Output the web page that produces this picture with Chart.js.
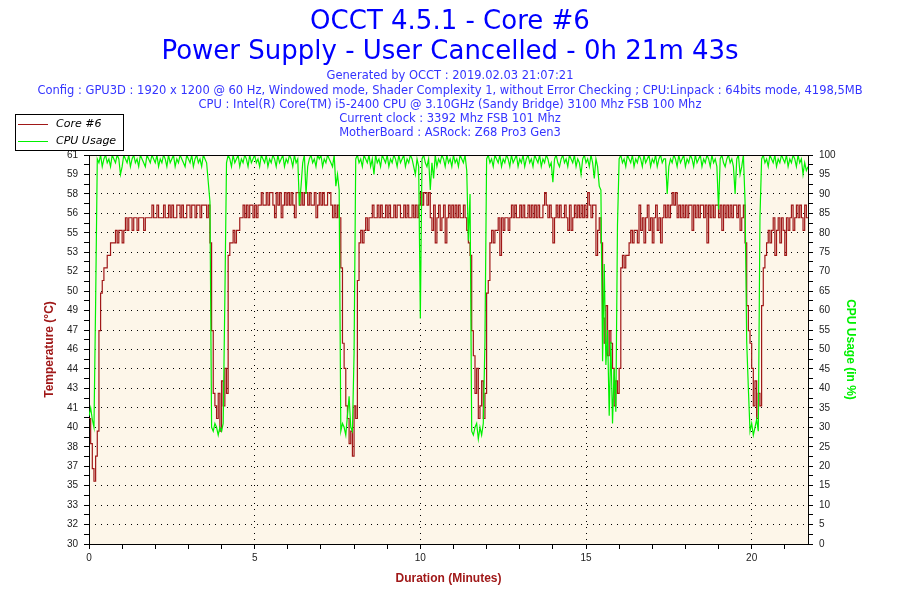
<!DOCTYPE html>
<html>
<head>
<meta charset="utf-8">
<script src="https://cdn.jsdelivr.net/npm/chart.js@4.4.1/dist/chart.umd.min.js"></script>
<style>
  body { margin: 0; background: #fff; }
  #wrap { position: relative; width: 900px; height: 600px; overflow: hidden; font-family: "DejaVu Sans", sans-serif; }
  #chart { position: absolute; left: 0; top: 0; }
  .line { position: absolute; left: 0; width: 900px; text-align: center; white-space: nowrap; }
  .big { font-size: 26px; line-height: 30px; color: #0000ff; }
  .small { font-size: 11.5px; line-height: 14px; color: #3434ff; }
  #legend { position: absolute; left: 15px; top: 114px; width: 107px; height: 35px; border: 1px solid #000; background: #fff; font-size: 11px; font-style: italic; color: #000; }
  #legend .row { position: absolute; left: 2px; height: 14px; line-height: 14px; }
  #legend .swatch { position: absolute; left: 0; top: 7px; width: 30px; height: 1px; }
  #legend .lbl { position: absolute; left: 38px; top: 0; white-space: nowrap; }
</style>
</head>
<body>
<div id="wrap">
  <canvas id="chart" width="900" height="600"></canvas>
  <div class="line big" style="top:5px">OCCT 4.5.1 - Core #6</div>
  <div class="line big" style="top:35px">Power Supply - User Cancelled - 0h 21m 43s</div>
  <div class="line small" style="top:68px">Generated by OCCT : 2019.02.03 21:07:21</div>
  <div class="line small" style="top:83px">Config : GPU3D : 1920 x 1200 @ 60 Hz, Windowed mode, Shader Complexity 1, without Error Checking ; CPU:Linpack : 64bits mode, 4198,5MB</div>
  <div class="line small" style="top:97px">CPU : Intel(R) Core(TM) i5-2400 CPU @ 3.10GHz (Sandy Bridge) 3100 Mhz FSB 100 Mhz</div>
  <div class="line small" style="top:111px">Current clock : 3392 Mhz FSB 101 Mhz</div>
  <div class="line small" style="top:125px">MotherBoard : ASRock: Z68 Pro3 Gen3</div>
  <div id="legend">
    <div class="row" style="top:2px"><span class="swatch" style="background:#a01818"></span><span class="lbl">Core #6</span></div>
    <div class="row" style="top:19px"><span class="swatch" style="background:#00f000"></span><span class="lbl">CPU Usage</span></div>
  </div>
</div>
<script>
// one sample every 0.05 min (3 s), one row per minute
const SAMPLE_STEP_MIN = 0.05;
const DURATION_MIN = 21.7;

const cpuUsage = [
  33, 35, 32, 30, 62, 99, 98, 100, 97, 99, 100, 98, 99, 97, 100, 99, 98, 100, 99, 95,
  97, 100, 99, 98, 100, 97, 99, 100, 98, 99, 97, 100, 99, 98, 97, 100, 99, 98, 100, 99,
  98, 100, 97, 99, 98, 100, 99, 97, 100, 98, 99, 100, 97, 99, 98, 100, 99, 98, 97, 100,
  99, 98, 100, 97, 99, 100, 98, 99, 97, 100, 99, 98, 93, 88, 30, 29, 31, 30, 28, 30,
  29, 31, 63, 98, 100, 99, 97, 100, 98, 99, 100, 97, 99, 98, 100, 99, 97, 100, 98, 99,
  100, 98, 99, 97, 100, 99, 98, 100, 97, 99, 98, 100, 99, 97, 100, 98, 99, 100, 97, 99,
  98, 100, 99, 97, 100, 98, 99, 87, 92, 98, 100, 90, 97, 99, 100, 98, 99, 97, 100, 99,
  100, 97, 99, 98, 100, 99, 98, 97, 100, 92, 95, 91, 29, 31, 30, 28, 33, 38, 30, 29,
  49, 99, 100, 98, 99, 97, 100, 99, 98, 100, 97, 99, 95, 100, 98, 99, 97, 100, 99, 98,
  100, 97, 99, 98, 100, 99, 97, 100, 98, 99, 100, 97, 99, 98, 100, 99, 97, 95, 99, 97,
  58, 99, 100, 98, 97, 99, 91, 98, 94, 100, 97, 99, 98, 100, 99, 97, 100, 98, 99, 97,
  100, 98, 99, 97, 100, 99, 98, 100, 96, 78, 90, 29, 28, 30, 31, 27, 30, 28, 31, 52,
  99, 100, 98, 99, 97, 100, 99, 98, 100, 97, 99, 98, 100, 99, 97, 100, 98, 99, 100, 97,
  99, 98, 100, 97, 99, 100, 98, 99, 97, 100, 99, 98, 100, 97, 99, 98, 100, 99, 97, 98,
  93, 99, 100, 98, 97, 99, 100, 98, 99, 97, 100, 99, 98, 100, 97, 99, 98, 95, 99, 100,
  98, 99, 97, 100, 98, 94, 99, 97, 92, 91, 47, 72, 46, 55, 33, 52, 31, 45, 34, 82,
  99, 100, 98, 99, 97, 100, 99, 98, 100, 97, 99, 98, 100, 99, 97, 100, 98, 99, 100, 97,
  99, 98, 100, 97, 99, 100, 98, 99, 99, 90, 97, 99, 98, 100, 99, 97, 100, 98, 99, 100,
  97, 99, 98, 100, 99, 97, 100, 98, 99, 100, 97, 99, 98, 100, 99, 97, 100, 98, 99, 97,
  86, 99, 100, 98, 97, 99, 100, 98, 99, 97, 90, 99, 100, 95, 97, 100, 88, 52, 40, 29,
  31, 28, 30, 32, 29, 84, 99, 100, 98, 99, 97, 100, 99, 98, 100, 97, 99, 98, 100, 99,
  98, 100, 97, 99, 98, 100, 99, 97, 100, 98, 99, 95, 98, 96, 97
];

const coreTemp = [
  40, 38, 36, 35, 37, 39, 47, 50, 51, 52, 52, 53, 53, 54, 54, 54, 55, 54, 55, 55,
  54, 55, 56, 55, 56, 56, 55, 56, 56, 55, 56, 56, 56, 55, 56, 56, 56, 56, 57, 56,
  56, 57, 56, 56, 56, 57, 56, 56, 57, 56, 57, 56, 56, 57, 57, 56, 57, 56, 56, 57,
  57, 56, 57, 57, 56, 57, 57, 56, 57, 57, 57, 56, 57, 54, 47, 42, 41, 40, 42, 39,
  43, 41, 44, 42, 53, 54, 54, 55, 54, 55, 55, 56, 56, 57, 56, 57, 56, 57, 57, 56,
  57, 56, 57, 57, 58, 57, 57, 58, 57, 58, 58, 57, 56, 58, 57, 58, 56, 57, 58, 57,
  58, 57, 58, 57, 56, 58, 58, 57, 58, 57, 58, 58, 57, 58, 57, 57, 58, 56, 57, 58,
  57, 58, 57, 57, 58, 58, 57, 56, 57, 56, 57, 56, 52, 46, 44, 41, 40, 38, 39, 37,
  41, 40, 51, 54, 55, 54, 55, 56, 55, 56, 56, 57, 56, 56, 57, 56, 57, 56, 56, 57,
  56, 57, 56, 56, 57, 56, 57, 57, 56, 56, 57, 56, 57, 56, 56, 57, 56, 57, 56, 57,
  58, 57, 58, 58, 57, 58, 56, 55, 57, 54, 56, 57, 55, 56, 57, 54, 56, 57, 56, 57,
  56, 57, 56, 57, 56, 56, 57, 56, 55, 54, 53, 47, 45, 42, 44, 40, 41, 43, 40, 42,
  50, 51, 54, 55, 54, 55, 55, 56, 53, 56, 55, 56, 56, 55, 56, 57, 56, 57, 56, 56,
  57, 56, 57, 56, 56, 57, 56, 57, 56, 57, 56, 57, 56, 56, 57, 58, 57, 56, 57, 56,
  54, 56, 57, 56, 57, 56, 56, 57, 56, 55, 57, 55, 56, 57, 56, 57, 56, 57, 56, 57,
  56, 58, 57, 56, 57, 57, 53, 55, 56, 54, 48, 46, 49, 45, 47, 46, 44, 41, 43, 42,
  44, 52, 53, 52, 53, 53, 54, 55, 54, 55, 55, 54, 57, 55, 56, 54, 56, 57, 55, 56,
  54, 56, 57, 55, 56, 54, 56, 57, 56, 57, 56, 57, 58, 57, 58, 56, 57, 56, 57, 56,
  57, 56, 57, 57, 55, 57, 56, 57, 56, 57, 57, 56, 57, 54, 57, 56, 57, 56, 57, 57,
  56, 57, 55, 57, 56, 57, 56, 57, 56, 57, 57, 56, 57, 55, 56, 57, 54, 49, 47, 46,
  44, 41, 43, 40, 42, 41, 49, 52, 53, 54, 55, 54, 55, 56, 53, 55, 56, 54, 56, 55,
  53, 56, 55, 56, 57, 55, 56, 57, 56, 57, 56, 55, 57, 56, 56
];

// left axis labels sit on the same lines as the CPU % grid (every 5 %)
const tempTickLabels = ['30', '32', '33', '35', '37', '38', '40', '41', '43', '44', '46',
  '47', '49', '50', '52', '53', '55', '56', '58', '59', '61'];
const TEMP_MIN = 30, TEMP_MAX = 61;
const minuteTicks = [0, 1, 2, 3, 4, 5, 6, 7, 8, 9, 10, 11, 12, 13, 14, 15, 16, 17, 18, 19, 20, 21];

const RED = '#a01818';
const GREEN = '#00f000';

const cpuPoints = cpuUsage.map((v, i) => ({ x: i * SAMPLE_STEP_MIN, y: v }));
const tempPoints = coreTemp.map((v, i) => ({ x: i * SAMPLE_STEP_MIN, y: v }));

// cream plot background + top frame line
const plotFrame = {
  id: 'plotFrame',
  beforeDraw(chart) {
    const { ctx, chartArea: a } = chart;
    ctx.save();
    ctx.fillStyle = '#fdf6e9';
    ctx.fillRect(a.left, a.top, a.right - a.left, a.bottom - a.top);
    ctx.restore();
  },
  afterDraw(chart) {
    const { ctx, chartArea: a } = chart;
    ctx.save();
    ctx.strokeStyle = '#000';
    ctx.lineWidth = 1;
    ctx.beginPath();
    ctx.moveTo(a.left, a.top + 0.5);
    ctx.lineTo(a.right, a.top + 0.5);
    ctx.stroke();
    ctx.restore();
  }
};

const tickFont = { family: 'Liberation Sans', size: 10 };
const titleFont = { family: 'Liberation Sans', size: 12, weight: 'bold' };

new Chart(document.getElementById('chart'), {
  type: 'line',
  data: {
    datasets: [
      {
        label: 'Core #6',
        data: tempPoints,
        yAxisID: 'yTemp',
        borderColor: RED,
        borderWidth: 1.2,
        pointRadius: 0,
        stepped: true,
        order: 1
      },
      {
        label: 'CPU Usage',
        data: cpuPoints,
        yAxisID: 'yCpu',
        borderColor: GREEN,
        borderWidth: 1.2,
        pointRadius: 0,
        tension: 0,
        order: 0
      }
    ]
  },
  options: {
    responsive: false,
    animation: false,
    devicePixelRatio: 1,
    layout: { padding: { left: 38, right: 38, top: 155, bottom: 10 } },
    plugins: {
      legend: { display: false },
      tooltip: { enabled: false }
    },
    scales: {
      x: {
        type: 'linear',
        min: 0,
        max: DURATION_MIN,
        afterBuildTicks: s => { s.ticks = minuteTicks.map(v => ({ value: v })); },
        afterFit: s => { s.height = 46; },
        ticks: {
          autoSkip: false,
          maxRotation: 0,
          padding: 3,
          color: '#222',
          font: tickFont,
          callback: v => (v % 5 === 0 ? String(v) : '')
        },
        grid: {
          color: c => (c.tick && c.tick.value % 5 === 0 && c.tick.value > 0 ? '#000' : 'rgba(0,0,0,0)'),
          tickColor: '#000',
          tickLength: 5,
          lineWidth: 1
        },
        border: { color: '#000', dash: [1, 5] },
        title: {
          display: true,
          text: 'Duration (Minutes)',
          color: RED,
          font: titleFont,
          padding: { top: 2, bottom: 4 }
        }
      },
      yTemp: {
        type: 'linear',
        position: 'left',
        min: TEMP_MIN,
        max: TEMP_MAX,
        afterBuildTicks: s => {
          const ticks = [];
          for (let k = 0; k <= 40; k++) ticks.push({ value: TEMP_MIN + (TEMP_MAX - TEMP_MIN) * k / 40 });
          s.ticks = ticks;
        },
        afterFit: s => { s.width = 51; },
        ticks: {
          autoSkip: false,
          padding: 6,
          color: '#222',
          font: tickFont,
          callback: (v, i) => (i % 2 === 0 ? tempTickLabels[i / 2] : '')
        },
        grid: {
          drawOnChartArea: false,
          tickColor: '#000',
          tickLength: 5
        },
        border: { color: '#000' },
        title: {
          display: true,
          text: 'Temperature (°C)',
          color: RED,
          font: titleFont,
          padding: { top: 4, bottom: 0 }
        }
      },
      yCpu: {
        type: 'linear',
        position: 'right',
        min: 0,
        max: 100,
        afterFit: s => { s.width = 54; },
        ticks: {
          stepSize: 2.5,
          autoSkip: false,
          padding: 6,
          color: '#222',
          font: tickFont,
          callback: v => (v % 5 === 0 ? String(v) : '')
        },
        grid: {
          color: c => (c.tick && c.tick.value % 5 === 0 && c.tick.value > 0 && c.tick.value < 100 ? '#000' : 'rgba(0,0,0,0)'),
          tickColor: '#000',
          tickLength: 5,
          lineWidth: 1
        },
        border: { color: '#000', dash: [1, 5] },
        title: {
          display: true,
          text: 'CPU Usage (in %)',
          color: GREEN,
          font: titleFont,
          padding: { top: 4, bottom: 0 }
        }
      }
    }
  },
  plugins: [plotFrame]
});
</script>
</body>
</html>
